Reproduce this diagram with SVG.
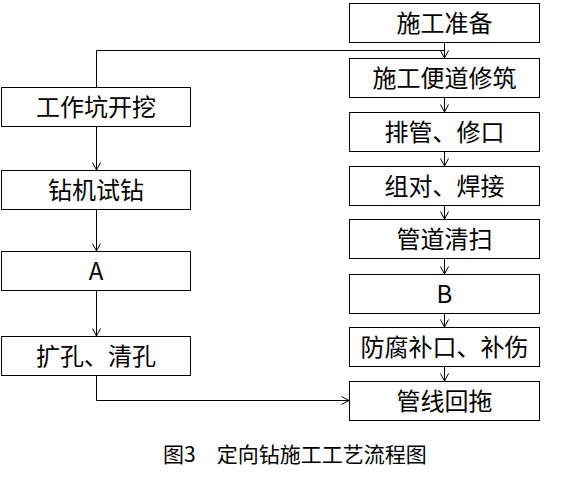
<svg xmlns="http://www.w3.org/2000/svg" width="572" height="486" viewBox="0 0 572 486">
<style>
.box{fill:#fff;stroke:#000;stroke-width:1}
.t{font-family:"Noto Sans CJK SC","Microsoft YaHei",sans-serif;font-size:24px;fill:#000;text-anchor:middle}
.cap{font-family:"Noto Sans CJK SC","Microsoft YaHei",sans-serif;font-size:21px;fill:#000}
.c{fill:none;stroke:#000;stroke-width:1}
</style>
<defs>
<marker id="arr" markerUnits="userSpaceOnUse" markerWidth="12" markerHeight="12" viewBox="-10 -6 12 12" refX="0" refY="0" orient="auto" overflow="visible">
<path d="M-7.5,-4 L0,0 L-7.5,4" fill="none" stroke="#000" stroke-width="1"/>
</marker>
</defs>
<rect width="572" height="486" fill="#fff"/>
<g id="connectors">
<path class="c" d="M444.5,42.5 V58" marker-end="url(#arr)"/>
<path class="c" d="M444.5,50.5 H96.5 V87.5"/>
<path class="c" d="M444.5,97.5 V112" marker-end="url(#arr)"/>
<path class="c" d="M444.5,151.5 V166" marker-end="url(#arr)"/>
<path class="c" d="M444.5,205.5 V219" marker-end="url(#arr)"/>
<path class="c" d="M444.5,258.5 V274" marker-end="url(#arr)"/>
<path class="c" d="M444.5,313.5 V327" marker-end="url(#arr)"/>
<path class="c" d="M444.5,366.5 V381" marker-end="url(#arr)"/>
<path class="c" d="M96.5,126.5 V170" marker-end="url(#arr)"/>
<path class="c" d="M96.5,209.5 V251" marker-end="url(#arr)"/>
<path class="c" d="M96.5,290.5 V336" marker-end="url(#arr)"/>
<path class="c" d="M96.5,375.5 V400.5 H349" marker-end="url(#arr)"/>
</g>
<g id="n1"><rect class="box" x="349.5" y="3.5" width="190" height="39"/><text class="t" x="444.5" y="31.5">施工准备</text></g>
<g id="n2"><rect class="box" x="349.5" y="58.5" width="190" height="39"/><text class="t" x="444.5" y="86.5">施工便道修筑</text></g>
<g id="n3"><rect class="box" x="349.5" y="112.5" width="190" height="39"/><text class="t" x="444.5" y="140.5">排管、修口</text></g>
<g id="n4"><rect class="box" x="349.5" y="166.5" width="190" height="39"/><text class="t" x="444.5" y="194.5">组对、焊接</text></g>
<g id="n5"><rect class="box" x="349.5" y="219.5" width="190" height="39"/><text class="t" x="444.5" y="247.5">管道清扫</text></g>
<g id="n6"><rect class="box" x="349.5" y="274.5" width="190" height="39"/><text class="t" x="444.5" y="302.5">B</text></g>
<g id="n7"><rect class="box" x="349.5" y="327.5" width="190" height="39"/><text class="t" x="444.5" y="355.5">防腐补口、补伤</text></g>
<g id="n8"><rect class="box" x="349.5" y="381.5" width="190" height="39"/><text class="t" x="444.5" y="409.5">管线回拖</text></g>
<g id="m1"><rect class="box" x="1.5" y="87.5" width="189" height="39"/><text class="t" x="96" y="115.5">工作坑开挖</text></g>
<g id="m2"><rect class="box" x="1.5" y="170.5" width="189" height="39"/><text class="t" x="96" y="198.5">钻机试钻</text></g>
<g id="m3"><rect class="box" x="1.5" y="251.5" width="189" height="39"/><text class="t" x="96" y="279.5">A</text></g>
<g id="m4"><rect class="box" x="1.5" y="336.5" width="189" height="39"/><text class="t" x="96" y="364.5">扩孔、清孔</text></g>
<text class="cap" x="163" y="461.5">图3　定向钻施工工艺流程图</text>
</svg>
